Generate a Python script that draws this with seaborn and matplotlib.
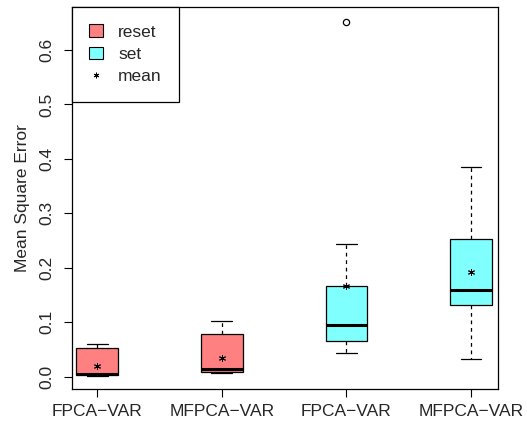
import numpy as np
import pandas as pd
import matplotlib.pyplot as plt
import seaborn as sns
from matplotlib.patches import Patch
from matplotlib.lines import Line2D

# Five-number summaries (min, q1, median, q3, max)
groups = ["reset", "reset", "set", "set"]
methods = ["FPCA\u2212VAR", "MFPCA\u2212VAR", "FPCA\u2212VAR", "MFPCA\u2212VAR"]
keys = ["reset FPCA", "reset MFPCA", "set FPCA", "set MFPCA"]
whisker_low = [0.002, 0.007, 0.0435, 0.033]
q1 = [0.004, 0.0095, 0.066, 0.132]
medians = [0.0045, 0.014, 0.0955, 0.160]
q3 = [0.0527, 0.079, 0.166, 0.252]
whisker_high = [0.0595, 0.103, 0.2445, 0.385]
means = [0.020, 0.034, 0.166, 0.192]
outlier_key = ["set FPCA"]
outlier_val = [0.652]

colors = {"reset": "#FF8080", "set": "#80FFFF"}

sns.set_style("white")
plt.rcParams["font.family"] = ["Liberation Sans", "DejaVu Sans"]
plt.rcParams["font.size"] = 12.5

rows = []
for k, g, lo, a, m, b, hi in zip(keys, groups, whisker_low, q1, medians, q3, whisker_high):
    for v in (lo, a, m, b, hi):
        rows.append({"key": k, "group": g, "mse": v})
df = pd.DataFrame(rows)

fig = plt.figure(figsize=(5.27, 4.23), dpi=100)
ax = fig.add_axes([72 / 527, 1 - 389 / 423, 426 / 527, 382 / 423])

sns.boxplot(data=df, x="key", y="mse", hue="group", order=keys,
            palette=colors, saturation=1, dodge=False, width=0.334,
            whis=(0, 100), linecolor="black", linewidth=0.9, legend=False,
            medianprops={"linewidth": 2.2},
            whiskerprops={"linestyle": (0, (3, 3))},
            ax=ax)

# means as asterisks
sns.pointplot(x=keys, y=means, order=keys, linestyle="none", color="black",
              marker=(6, 2, 0), markersize=5, markeredgewidth=0.7,
              errorbar=None, ax=ax, zorder=5)

# outlier
sns.pointplot(x=outlier_key, y=outlier_val, order=keys, linestyle="none",
              color="black", marker="o", markersize=4.5, markerfacecolor="none",
              markeredgewidth=0.9, errorbar=None, ax=ax, zorder=5)

ax.set_xlim(-0.203, 3.217)
ax.set_ylim(-0.0226, 0.679)
ax.set_xticks(range(4))
ax.set_xticklabels(methods)
ax.set_yticks([0.0, 0.1, 0.2, 0.3, 0.4, 0.5, 0.6])
ax.set_yticklabels(["0.0", "0.1", "0.2", "0.3", "0.4", "0.5", "0.6"],
                   rotation=90, va="center")
ax.set_xlabel("")
ax.set_ylabel("Mean Square Error", labelpad=7)
ax.tick_params(axis="both", direction="out", length=5.5, width=0.8,
               color="black", bottom=True, left=True)
ax.tick_params(axis="x", pad=5)
ax.tick_params(axis="y", pad=7)
for s in ax.spines.values():
    s.set_visible(True)
    s.set_color("black")
    s.set_linewidth(0.9)

handles = [
    Patch(facecolor=colors["reset"], edgecolor="black", linewidth=0.8, label="reset"),
    Patch(facecolor=colors["set"], edgecolor="black", linewidth=0.8, label="set"),
    Line2D([], [], linestyle="none", marker=(6, 2, 0), markersize=4,
           color="black", markeredgewidth=0.7, label="mean"),
]
leg = ax.legend(handles=handles, loc="upper left", borderaxespad=0,
                fancybox=False, framealpha=1, edgecolor="black",
                handlelength=0.8, handleheight=0.7, handletextpad=0.85,
                borderpad=1.0, labelspacing=0.42)
leg.get_frame().set_linewidth(0.9)

fig.savefig("out.png", dpi=100)
